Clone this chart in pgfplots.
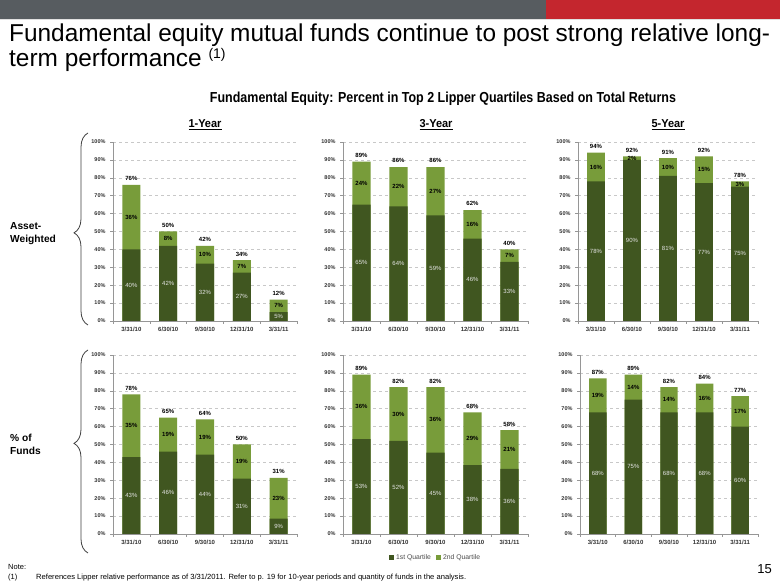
\documentclass[border=0pt]{standalone}
\usepackage{pgfplots}
\pgfplotsset{compat=1.18}
\usepackage{pgfplotstable}
\usepackage{fontspec}
\setmainfont{Liberation Sans}
\usetikzlibrary{decorations.pathreplacing}
\definecolor{qdark}{RGB}{64,86,32}
\definecolor{qlight}{RGB}{120,156,58}
\definecolor{hgray}{RGB}{87,92,96}
\definecolor{hred}{RGB}{196,38,46}
\definecolor{gridc}{RGB}{200,200,200}
\definecolor{axc}{RGB}{150,150,150}
\definecolor{tickc}{RGB}{50,50,50}

% columns: x, q1 (1st quartile height), tot (top of bar), labels l1 l2 lt
\pgfplotstableread{
x q1 tot l1 l2 lt
0 40 76 40 36 76
1 42 50 42 8 50
2 32 42 32 10 42
3 27 34 27 7 34
4 5 12 5 7 12
}\tabTL
\pgfplotstableread{
x q1 tot l1 l2 lt
0 65 89 65 24 89
1 64 86 64 22 86
2 59 86 59 27 86
3 46 62 46 16 62
4 33 40 33 7 40
}\tabTM
\pgfplotstableread{
x q1 tot l1 l2 lt
0 78 94 78 16 94
1 90 92 90 2 92
2 81 91 81 10 91
3 77 92 77 15 92
4 75 78 75 3 78
}\tabTR
\pgfplotstableread{
x q1 tot l1 l2 lt
0 43 78 43 35 78
1 46 65 46 19 65
2 44.4 64 44 19 64
3 31 50 31 19 50
4 8.6 31.4 9 23 31
}\tabBL
\pgfplotstableread{
x q1 tot l1 l2 lt
0 53 89 53 36 89
1 52 82 52 30 82
2 45.5 82 45 36 82
3 38.5 68 38 29 68
4 36.4 58 36 21 58
}\tabBM
\pgfplotstableread{
x q1 tot l1 l2 lt
0 68 87 68 19 87
1 75 89 75 14 89
2 68 82 68 14 82
3 68 84 68 16 84
4 60 77 60 17 77
}\tabBR

\pgfplotsset{
  panel/.style={
    scale only axis, height=179pt,
    anchor=south west, clip=false,
    /pgf/number format/assume math mode=true,
    xmin=-0.5, xmax=4.5, ymin=0, ymax=100,
    axis x line*=bottom, axis y line*=left,
    axis line style={axc, line width=0.6pt},
    xtick={-0.5,0.5,1.5,2.5,3.5,4.5}, xticklabels={},
    extra x ticks={0,1,2,3,4},
    extra x tick labels={3/31/10,6/30/10,9/30/10,12/31/10,3/31/11},
    extra x tick style={major tick length=0pt},
    ytick={0,10,20,30,40,50,60,70,80,90,100},
    yticklabels={0\%,10\%,20\%,30\%,40\%,50\%,60\%,70\%,80\%,90\%,100\%},
    ymajorgrids, y grid style={gridc, dashed, line width=0.5pt},
    tick align=outside, major tick length=3pt,
    tick style={axc, line width=0.5pt},
    yticklabel style={font=\fontsize{5.5}{6}\selectfont\bfseries, text=tickc, xshift=-1pt},
    xticklabel style={font=\fontsize{6}{7}\selectfont\bfseries, text=tickc, yshift=-3pt},
  },
  lab/.style={draw=none, mark=none, forget plot, nodes near coords,
    point meta=explicit,
    nodes near coords={\pgfmathprintnumber{\pgfplotspointmeta}\%}},
}

\newcommand{\panel}[5]{%
\begin{axis}[panel, at={(#1pt,#2pt)}, width=#3pt, #5]
  \addplot[ybar, bar width=0.49, bar shift=0pt, fill=qlight, draw=none] table[x=x,y=tot]{#4};
  \addplot[ybar, bar width=0.49, bar shift=0pt, fill=qdark, draw=none] table[x=x,y=q1]{#4};
  \addplot[lab, every node near coord/.style={anchor=center, text=white!90!black, font=\fontsize{6}{7}\selectfont}]
     table[x=x, y expr=\thisrow{q1}/2, meta=l1]{#4};
  \addplot[lab, every node near coord/.style={anchor=center, text=black, font=\fontsize{6}{7}\selectfont\bfseries}]
     table[x=x, y expr=(\thisrow{q1}+\thisrow{tot})/2, meta=l2]{#4};
  \addplot[lab, every node near coord/.style={anchor=south, yshift=0.5pt, text=black, font=\fontsize{6}{7}\selectfont\bfseries}]
     table[x=x, y=tot, meta=lt]{#4};
\end{axis}}

\begin{document}
\begin{tikzpicture}[x=1pt,y=1pt]
\useasboundingbox (0,0) rectangle (780,585);
\fill[white] (0,0) rectangle (780,585);
% header band
\fill[hgray] (0,566) rectangle (546,585);
\fill[hred] (546,566) rectangle (780,585);
\draw[black!12, line width=0.6pt] (0,565.5) -- (780,565.5);
% title
\node[anchor=base west, inner sep=0pt] at (9,543) {\fontsize{24.4}{28}\selectfont Fundamental equity mutual funds continue to post strong relative long-};
\node[anchor=base west, inner sep=0pt] at (9,518) {\fontsize{24.4}{28}\selectfont term performance \raisebox{8pt}{\fontsize{14}{16}\selectfont (1)}};
% subtitle
\node[anchor=base, inner sep=0pt] at (443,482) {\resizebox{466pt}{\height}{\fontsize{14.5}{17}\selectfont\bfseries Fundamental Equity: Percent in Top 2 Lipper Quartiles Based on Total Returns}};
% column headers
\node[anchor=base, inner sep=0pt] at (205,457) {\resizebox{33pt}{\height}{\fontsize{11.5}{13}\selectfont\bfseries\underline{1-Year}}};
\node[anchor=base, inner sep=0pt] at (436,457) {\resizebox{33pt}{\height}{\fontsize{11.5}{13}\selectfont\bfseries\underline{3-Year}}};
\node[anchor=base, inner sep=0pt] at (668,457) {\resizebox{33pt}{\height}{\fontsize{11.5}{13}\selectfont\bfseries\underline{5-Year}}};
% row labels
\node[anchor=base west, inner sep=0pt] at (10,355) {\fontsize{10.2}{12}\selectfont\bfseries Asset-};
\node[anchor=base west, inner sep=0pt] at (10,342) {\fontsize{10.2}{12}\selectfont\bfseries Weighted};
\node[anchor=base west, inner sep=0pt] at (10,143) {\fontsize{10.2}{12}\selectfont\bfseries \% of};
\node[anchor=base west, inner sep=0pt] at (10,130) {\fontsize{10.2}{12}\selectfont\bfseries Funds};
% braces
\draw[black!75, line width=0.8pt, decorate, decoration={brace, amplitude=14pt, aspect=0.48}] (88,260) -- (88,452);
\draw[black!75, line width=0.8pt, decorate, decoration={brace, amplitude=14pt, aspect=0.54}] (88,32) -- (88,235);

\panel{113}{264}{184}{\tabTL}{}
\panel{343}{264}{185}{\tabTM}{}
\panel{578}{264}{180}{\tabTR}{}
\panel{113}{51}{184}{\tabBL}{}
\panel{343}{51}{185}{\tabBM}{legend entries={2nd Quartile,1st Quartile}, reverse legend,
  legend columns=2,
  legend image code/.code={\fill[#1] (0pt,-2.6pt) rectangle (5.2pt,2.6pt);},
  legend style={at={(0.5,0)}, anchor=north, yshift=-18pt, draw=none, fill=none,
    font=\fontsize{6.8}{8}\selectfont, text=black!70, inner sep=0pt,
    /tikz/every even column/.append style={column sep=3pt}},
  legend cell align=left}
\panel{580}{51}{178}{\tabBR}{}

% notes
\node[anchor=base west, inner sep=0pt] at (8,15) {\fontsize{7.5}{9}\selectfont Note:};
\node[anchor=base west, inner sep=0pt] at (8,5) {\fontsize{7.5}{9}\selectfont (1)};
\node[anchor=base west, inner sep=0pt] at (36,5) {\resizebox{430pt}{\height}{\fontsize{7.5}{9}\selectfont References Lipper relative performance as of 3/31/2011. Refer to p. 19 for 10-year periods and quantity of funds in the analysis.}};
\node[anchor=base east, inner sep=0pt] at (772,11) {\fontsize{13}{15}\selectfont 15};
\end{tikzpicture}
\end{document}
